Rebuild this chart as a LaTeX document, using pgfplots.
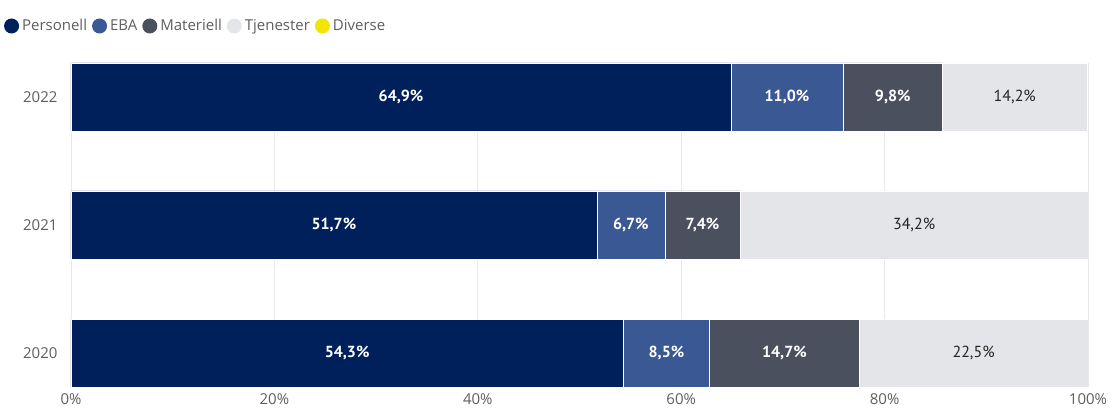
\documentclass[border=0pt]{standalone}
\usepackage{fontspec}
\setmainfont{Open Sans}
\newfontfamily\lblfont{PT Sans}
\usepackage{pgfplots}
\pgfplotsset{compat=1.18}

\definecolor{cPers}{HTML}{00205B}
\definecolor{cEBA}{HTML}{3A5894}
\definecolor{cMat}{HTML}{4A505E}
\definecolor{cTjen}{HTML}{E4E5E9}
\definecolor{cDiv}{HTML}{F2E500}
\definecolor{tickgray}{HTML}{605E5C}
\definecolor{gridgray}{HTML}{EAEAEA}
\definecolor{darktext}{HTML}{252423}

\pgfplotsset{
  base/.style={
    at={(0,0)}, anchor=south west,
    scale only axis, width=1017pt, height=324pt,
    xmin=0, xmax=100, ymin=-0.265, ymax=2.265,
  },
  legcirc/.style={legend image code/.code={\fill[##1,draw=none] (7.5pt,0pt) circle (7.5pt);}},
  lbl/.style={only marks, mark size=0pt, mark options={draw=none, fill=none},
    nodes near coords, point meta=explicit symbolic},
}

\begin{document}
\begin{tikzpicture}
\path[use as bounding box] (-71pt,-25pt) rectangle (1043pt,387pt);

\begin{axis}[
  base,
  xbar stacked,
  bar width=68pt,
  ytick={0,1,2},
  yticklabels={2020,2021,2022},
  xtick={0,20,40,60,80,100},
  xticklabel={\pgfmathprintnumber{\tick}\%},
  /pgf/number format/assume math mode=true,
  axis line style={draw=none},
  major tick length=0pt,
  xmajorgrids,
  grid style={draw=gridgray, line width=0.8pt},
  tick label style={font=\fontsize{15}{18}\selectfont, text=tickgray},
  yticklabel style={xshift=-10pt},
  xticklabel style={yshift=-3pt},
  legend columns=5,
  legend style={draw=none, fill=none, at={(axis description cs:-0.066,1)}, anchor=west,
    yshift=37pt, font=\fontsize{15}{18}\selectfont, text=tickgray,
    inner sep=0pt,
    /tikz/every odd column/.append style={column sep=1pt},
    /tikz/every even column/.append style={column sep=3pt}},
  legend cell align=left,
]
\addplot[fill=cPers, draw=white, line width=0.5pt, legcirc] coordinates {(54.3,0) (51.7,1) (64.9,2)};
\addlegendentry{Personell}
\addplot[fill=cEBA, draw=white, line width=0.5pt, legcirc] coordinates {(8.5,0) (6.7,1) (11.0,2)};
\addlegendentry{EBA}
\addplot[fill=cMat, draw=white, line width=0.5pt, legcirc] coordinates {(14.7,0) (7.4,1) (9.8,2)};
\addlegendentry{Materiell}
\addplot[fill=cTjen, draw=white, line width=0.5pt, legcirc] coordinates {(22.5,0) (34.2,1) (14.2,2)};
\addlegendentry{Tjenester}
\addplot[fill=cDiv, draw=none, legcirc] coordinates {(0,0) (0,1) (0.1,2)};
\addlegendentry{Diverse}
\end{axis}

\begin{axis}[base, hide axis]
\addplot[lbl,
  every node near coord/.style={anchor=center, text=white,
    font=\lblfont\bfseries\fontsize{16}{18}\selectfont}]
coordinates {
  (32.45,2) [64,9\%] (70.4,2) [11,0\%] (80.8,2) [9,8\%]
  (25.85,1) [51,7\%] (55.05,1) [6,7\%] (62.1,1) [7,4\%]
  (27.15,0) [54,3\%] (58.55,0) [8,5\%] (70.15,0) [14,7\%]
};
\addplot[lbl,
  every node near coord/.style={anchor=center, text=darktext,
    font=\lblfont\fontsize{16}{18}\selectfont}]
coordinates {
  (92.8,2) [14,2\%] (82.9,1) [34,2\%] (88.75,0) [22,5\%]
};
\end{axis}
\end{tikzpicture}
\end{document}
